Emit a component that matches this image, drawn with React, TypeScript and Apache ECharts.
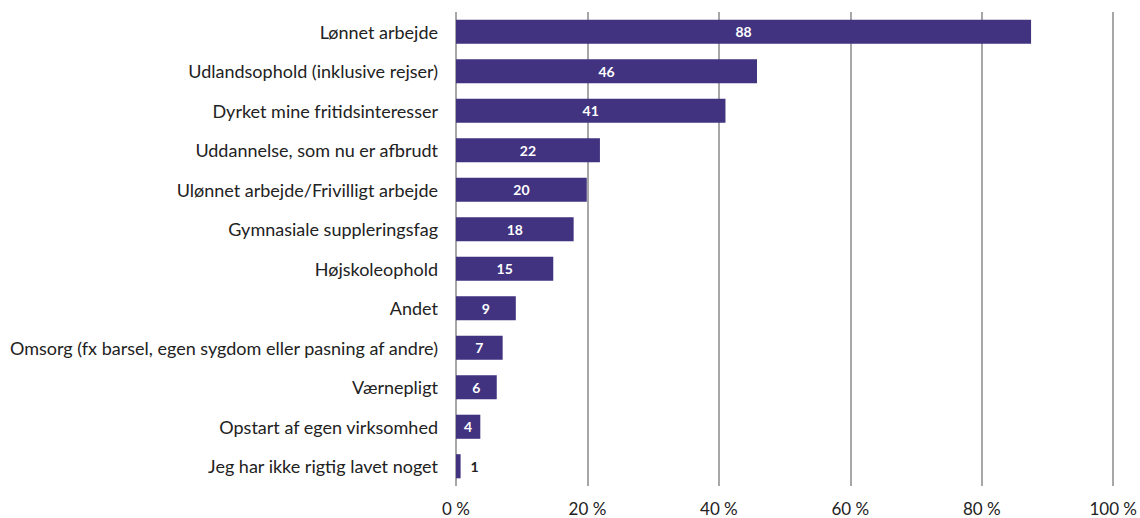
import React, { useEffect, useRef } from "react";
import * as echarts from "echarts";

const categories = [
  "Lønnet arbejde",
  "Udlandsophold (inklusive rejser)",
  "Dyrket mine fritidsinteresser",
  "Uddannelse, som nu er afbrudt",
  "Ulønnet arbejde/Frivilligt arbejde",
  "Gymnasiale suppleringsfag",
  "Højskoleophold",
  "Andet",
  "Omsorg (fx barsel, egen sygdom eller pasning af andre)",
  "Værnepligt",
  "Opstart af egen virksomhed",
  "Jeg har ikke rigtig lavet noget",
];
const values = [87.5, 45.8, 41.0, 21.9, 19.9, 17.9, 14.8, 9.1, 7.1, 6.2, 3.7, 0.7];
const xTicks = [0, 20, 40, 60, 80, 100];

const FONT = "Lato";

export default function App() {
  const ref = useRef<HTMLDivElement>(null);
  useEffect(() => {
    if (!ref.current) return;
    const chart = echarts.init(ref.current, null, { renderer: "svg" });
    const catRev = [...categories].reverse();
    const valRev = [...values].reverse();
    chart.setOption({
      animation: false,
      grid: { left: 456, right: 25, top: 12, bottom: 32, containLabel: false },
      xAxis: {
        type: "value",
        min: xTicks[0],
        max: xTicks[xTicks.length - 1],
        interval: 20,
        axisLine: { show: false },
        axisTick: { show: false },
        axisLabel: {
          formatter: (v: number) => `${v} %`,
          color: "#222",
          fontFamily: FONT,
          fontSize: 17,
          margin: 14,
        },
        splitLine: { show: true, lineStyle: { color: "#8a8a8a", width: 1.5 } },
      },
      yAxis: {
        type: "category",
        data: catRev,
        axisLine: { show: false },
        axisTick: { show: false },
        axisLabel: {
          color: "#222",
          fontFamily: FONT,
          fontSize: 18,
          margin: 18,
        },
      },
      series: [
        {
          type: "bar",
          data: valRev.map((v) => {
            const small = v < 2;
            return {
              value: v,
              label: small
                ? { position: "right", color: "#222", distance: 10 }
                : { position: "inside", color: "#fff" },
            };
          }),
          barCategoryGap: "39%",
          itemStyle: { color: "#41337f" },
          label: {
            show: true,
            formatter: (p: any) => `${Math.round(p.value)}`,
            fontFamily: FONT,
            fontWeight: "bold",
            fontSize: 14,
          },
        },
      ],
    });
    return () => chart.dispose();
  }, []);
  return (
    <div
      ref={ref}
      style={{ position: "absolute", left: 0, top: 0, width: 1140, height: 518 }}
    />
  );
}
